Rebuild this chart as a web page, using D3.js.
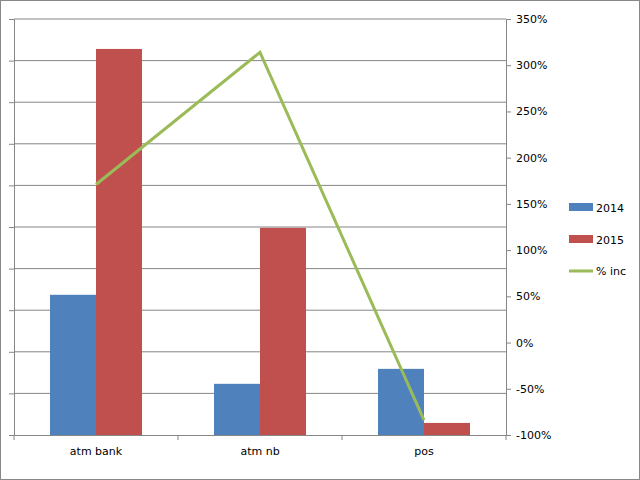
<!DOCTYPE html><html><head><script src="https://cdn.jsdelivr.net/npm/d3@7"></script>
<style>body{margin:0;background:#fff}</style></head><body><svg id="c" width="640" height="480"></svg><script>
const categories=["atm bank","atm nb","pos"];
const s2014=[3.37,1.23,1.59];
const s2015=[9.28,4.98,0.29];
const pctInc=[171,314,-84];
const rightTicks=[-100,-50,0,50,100,150,200,250,300,350];
const svg=d3.select("#c");
svg.append("rect").attr("x",0.5).attr("y",0.5).attr("width",639).attr("height",479).attr("fill","#fff").attr("stroke","#888");
const L=14,R=506,T=19,B=435;
const x=d3.scaleBand().domain(categories).range([L,R]);
const yl=d3.scaleLinear().domain([0,10]).range([B,T]);
const yr=d3.scaleLinear().domain([-100,350]).range([B,T]);
const g=svg.append("g");
d3.range(1,11).forEach(v=>g.append("line").attr("x1",L).attr("x2",R).attr("y1",yl(v)).attr("y2",yl(v)).attr("stroke","#868686"));
const bw=46;
categories.forEach((c,i)=>{const cx=x(c)+x.bandwidth()/2;
 g.append("rect").attr("x",cx-bw).attr("width",bw).attr("y",yl(s2014[i])).attr("height",B-yl(s2014[i])).attr("fill","#4f81bd");
 g.append("rect").attr("x",cx).attr("width",bw).attr("y",yl(s2015[i])).attr("height",B-yl(s2015[i])).attr("fill","#c0504d");});
const la=svg.append("g").attr("transform",`translate(${L},0)`).call(d3.axisLeft(yl).ticks(10).tickFormat("").tickSize(5));
const ba=svg.append("g").attr("transform",`translate(0,${B})`).call(d3.axisBottom(x).tickSize(5).tickSizeOuter(0));
ba.selectAll(".tick line").attr("transform",`translate(${x.bandwidth()/2},0)`);
ba.append("line").attr("x1",L).attr("x2",L).attr("y1",0).attr("y2",5).attr("stroke","#868686");
const ra=svg.append("g").attr("transform",`translate(${R},0)`).call(d3.axisRight(yr).tickValues(rightTicks).tickFormat(d=>d+"%").tickSize(5).tickSizeOuter(0));
[la,ba,ra].forEach(a=>{a.selectAll("path,line").attr("stroke","#868686");a.selectAll("text").attr("font-family","Verdana, DejaVu Sans, sans-serif").attr("font-size",11).attr("fill","#000");});
ba.selectAll("text").attr("dy","1.1em");
ra.selectAll("text").attr("dx","2");
svg.append("path").datum(pctInc).attr("d",d3.line().x((d,i)=>x(categories[i])+x.bandwidth()/2).y(d=>yr(d))).attr("fill","none").attr("stroke","#9bbb59").attr("stroke-width",3);
const lg=svg.append("g").attr("font-family","Verdana, DejaVu Sans, sans-serif").attr("font-size",11);
[["2014","#4f81bd"],["2015","#c0504d"]].forEach((d,i)=>{lg.append("rect").attr("x",569).attr("y",203+i*32).attr("width",24).attr("height",8).attr("fill",d[1]);lg.append("text").attr("x",596).attr("y",212+i*32).text(d[0]);});
lg.append("line").attr("x1",569).attr("x2",593).attr("y1",271).attr("y2",271).attr("stroke","#9bbb59").attr("stroke-width",3);
lg.append("text").attr("x",596).attr("y",275).text("% inc");
</script></body></html>
